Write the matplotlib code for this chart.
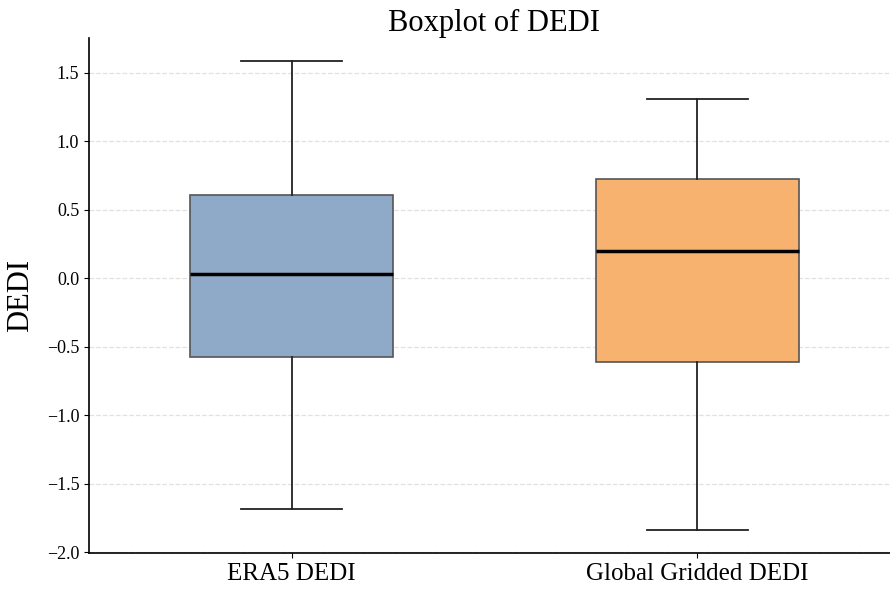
import matplotlib
matplotlib.use("Agg")
from matplotlib import pyplot as plt

# values
labels = ["ERA5 DEDI", "Global Gridded DEDI"]
whislo = [-1.682, -1.836]
q1 = [-0.574, -0.609]
med = [0.031, 0.199]
q3 = [0.609, 0.724]
whishi = [1.583, 1.306]
colors = ["#8FAAC8", "#F7B26F"]

plt.rcParams["font.family"] = ["Liberation Serif", "DejaVu Serif"]

stats = [
    dict(label=lab, whislo=lo, q1=a, med=m, q3=b, whishi=hi, fliers=[])
    for lab, lo, a, m, b, hi in zip(labels, whislo, q1, med, q3, whishi)
]

fig = plt.figure(figsize=(8.9, 5.89), dpi=100)
ax = fig.add_axes([89 / 890, 36 / 589, 811 / 890, 515 / 589])

bp = ax.bxp(
    stats,
    positions=[0, 1],
    widths=0.5,
    patch_artist=True,
    showfliers=False,
    medianprops=dict(color="black", linewidth=2.5),
    whiskerprops=dict(color="#222222", linewidth=1.3),
    capprops=dict(color="#222222", linewidth=1.3),
    boxprops=dict(edgecolor="#555555", linewidth=1.2),
)
for patch, c in zip(bp["boxes"], colors):
    patch.set_facecolor(c)

ax.set_xlim(-0.5, 1.5)
ax.grid(axis="y", linestyle="--", color="#d5d5d5", alpha=0.7, linewidth=0.9)
ax.set_axisbelow(True)
ax.spines["top"].set_visible(False)
ax.spines["right"].set_visible(False)
ax.spines["left"].set_linewidth(1.2)
ax.spines["bottom"].set_linewidth(1.2)

ax.tick_params(axis="y", labelsize=13)
ax.tick_params(axis="x", labelsize=18)
ax.set_ylabel("DEDI", fontsize=22, labelpad=8)
ax.set_title("Boxplot of DEDI", fontsize=22, pad=5)

fig.savefig("out.png", dpi=100)
